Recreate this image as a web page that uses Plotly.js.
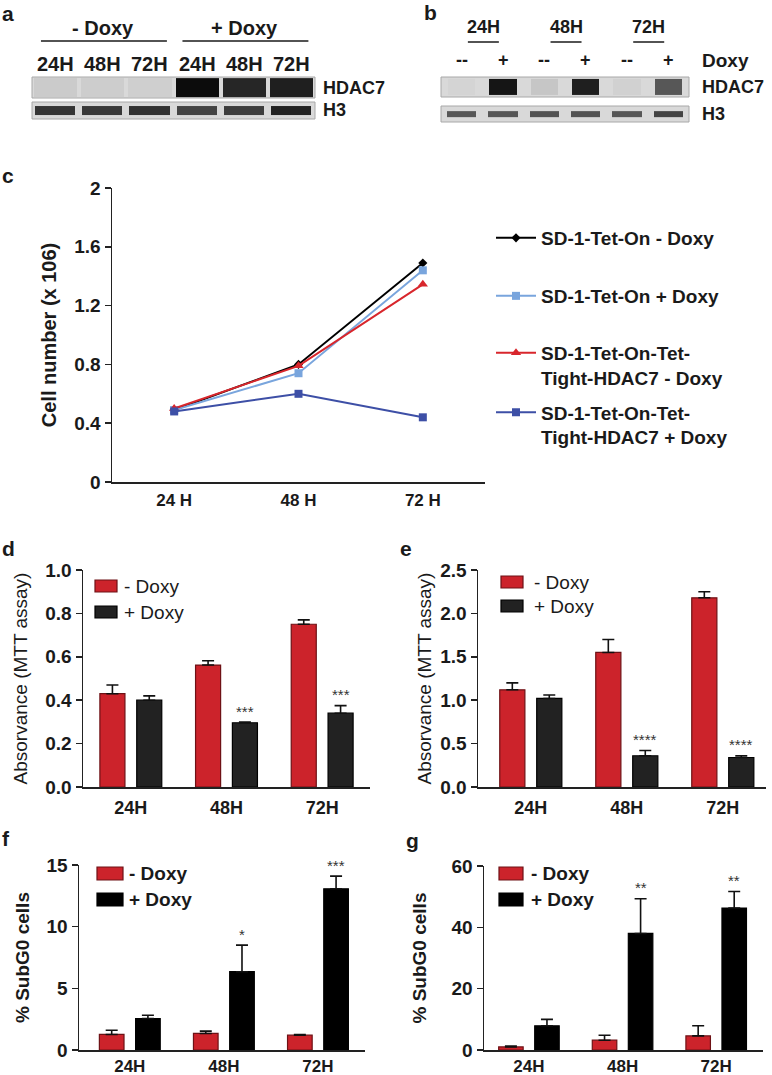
<!DOCTYPE html>
<html><head><meta charset="utf-8">
<script src="https://cdn.plot.ly/plotly-3.0.1.min.js"></script>
<style>html,body{margin:0;padding:0;background:#fff}</style>
</head><body><div id="chart" style="width:772px;height:1075px"></div>
<script>
// ---------------- Data ----------------
const blotALanes = ['24H','48H','72H','24H','48H','72H'];
const blotAGroups = ['- Doxy','+ Doxy'];
const blotAHdac7 = [0.06,0.05,0.04,1.0,0.86,0.9];
const blotAH3 = [0.78,0.76,0.8,0.7,0.74,0.88];
const blotBTimes = ['24H','48H','72H'];
const blotBDoxy = ['--','+','--','+','--','+'];
const blotBHdac7 = [0.02,0.95,0.08,0.9,0.03,0.6];
const blotBH3 = [0.6,0.6,0.62,0.62,0.6,0.7];

const growthTimes = ['24 H','48 H','72 H'];
const growthNames = ['SD-1-Tet-On - Doxy','SD-1-Tet-On + Doxy',
  'SD-1-Tet-On-Tet-<br>Tight-HDAC7 - Doxy','SD-1-Tet-On-Tet-<br>Tight-HDAC7 + Doxy'];
const growthTetOnMinus = [0.49,0.80,1.49];
const growthTetOnPlus  = [0.49,0.74,1.44];
const growthHdac7Minus = [0.50,0.79,1.345];
const growthHdac7Plus  = [0.48,0.60,0.44];

const times = ['24H','48H','72H'];
const groupNames = ['- Doxy','+ Doxy'];
const mttDMinus = [0.43,0.562,0.75],  errDMinus = [0.04,0.02,0.02];
const mttDPlus  = [0.40,0.296,0.34],  errDPlus  = [0.02,0.003,0.035];
const sigD = ['','***','***'];
const mttEMinus = [1.12,1.55,2.18],   errEMinus = [0.08,0.15,0.07];
const mttEPlus  = [1.02,0.36,0.34],   errEPlus  = [0.04,0.06,0.02];
const sigE = ['','****','****'];
const subFMinus = [1.26,1.34,1.2],    errFMinus = [0.34,0.19,0.05];
const subFPlus  = [2.55,6.35,13.07],  errFPlus  = [0.27,2.15,1.03];
const sigF = ['','*','***'];
const subGMinus = [1.0,3.2,4.6],      errGMinus = [0.3,1.6,3.3];
const subGPlus  = [7.9,38.0,46.3],    errGPlus  = [2.1,11.3,5.4];
const sigG = ['','**','**'];

// ---------------- Helpers ----------------
const W = 772, H = 1075;
const px = x => x / W;
const py = y => 1 - y / H;
const domX = (a, b) => [px(a), px(b)];
const domY = (top, bottom) => [py(bottom), py(top)];
const FONT = 'Liberation Sans, Arial, Helvetica, sans-serif';
const INK = '#1a1a1a';
const RED = '#cc232b', RED_EDGE = '#6e1216';
const BARGAP = 0.23, BARGROUPGAP = 0.32;
const OFF = (1 - BARGAP) / 4;

const traces = [];
const annotations = [];
const shapes = [];

// ---------------- Blots ----------------
const blotScale = [[0,'#d8d8d8'],[0.5,'#6a6a6a'],[1,'#0c0c0c']];
function blot(z, ax, xgap) {
  traces.push({type:'heatmap', z:[z], x:z.map((_, i) => i), y:[0],
    xaxis:'x'+ax, yaxis:'y'+ax, colorscale:blotScale, zmin:0, zmax:1,
    showscale:false, xgap:xgap, hoverinfo:'skip'});
  shapes.push({type:'rect', xref:'x'+ax+' domain', yref:'y'+ax+' domain',
    x0:0, x1:1, y0:0, y1:1, layer:'below',
    fillcolor:'#d9d9d9', line:{color:'#a8a8a8', width:1}});
}
blot(blotAHdac7, 6, 4);
blot(blotAH3, 7, 7);
blot(blotBHdac7, 8, 14);
blot(blotBH3, 9, 12);

const lbl = (text, x, y, size, opts={}) => Object.assign({
  text, x, y, xref:'paper', yref:'paper', showarrow:false,
  font:{family:FONT, size, color:INK, weight:'bold'}, xanchor:'center', yanchor:'middle'}, opts);

// panel a labels
blotALanes.forEach((t, i) => annotations.push(lbl(t, i, py(64), 20, {xref:'x6'})));
blotAGroups.forEach((g, k) => {
  annotations.push(lbl(g, 3*k + 1, py(28), 20, {xref:'x6'}));
  shapes.push({type:'line', xref:'x6', yref:'paper', x0:3*k - 0.31, x1:3*k + 2.36,
    y0:py(41), y1:py(41), line:{color:INK, width:1.5}});
});
annotations.push(lbl('HDAC7', px(321), py(88), 18, {xanchor:'left'}));
annotations.push(lbl('H3', px(321), py(110), 18, {xanchor:'left'}));

// panel b labels
blotBTimes.forEach((t, i) => {
  annotations.push(lbl(t, 2*i + 0.53, py(27), 18, {xref:'x8'}));
  shapes.push({type:'line', xref:'x8', yref:'paper', x0:2*i + 0.15, x1:2*i + 0.9,
    y0:py(42), y1:py(42), line:{color:INK, width:1.5}});
});
blotBDoxy.forEach((d, i) => annotations.push(lbl(d, i, py(60), 18, {xref:'x8'})));
annotations.push(lbl('Doxy', px(700), py(60), 19, {xanchor:'left'}));
annotations.push(lbl('HDAC7', px(700), py(87), 18, {xanchor:'left'}));
annotations.push(lbl('H3', px(700), py(114), 18, {xanchor:'left'}));

// panel letters
[['a',0,13],['b',422,12],['c',0,175],['d',0,548],['e',398,548],['f',0,838],['g',404,840]]
  .forEach(([t, x, y]) => annotations.push(lbl(t, px(x), py(y), 21, {xanchor:'left', yanchor:'middle'})));

// ---------------- Panel c: growth lines ----------------
const lineSpecs = [
  {y:growthTetOnMinus, color:'#000000', symbol:'diamond', size:7},
  {y:growthTetOnPlus,  color:'#79a5dd', symbol:'square', size:8},
  {y:growthHdac7Minus, color:'#d8262c', symbol:'triangle-up', size:9},
  {y:growthHdac7Plus,  color:'#3d4fa6', symbol:'square', size:8},
];
const legendY = [238, 296, 365.5, 425];
lineSpecs.forEach((s, i) => {
  traces.push({type:'scatter', mode:'lines+markers', x:growthTimes, y:s.y, name:growthNames[i],
    xaxis:'x', yaxis:'y', line:{color:s.color, width:2},
    marker:{color:s.color, symbol:s.symbol, size:s.size},
    legend: i === 0 ? 'legend' : 'legend' + (i + 1), showlegend:true, hoverinfo:'skip'});
});

// ---------------- Bar panels ----------------
const barPanels = [
  {ax:2, minus:mttDMinus, eMinus:errDMinus, plus:mttDPlus, ePlus:errDPlus, sig:sigD, plusColor:'#222222',
   key:{x:95, w:22, y1:580, y2:606, h:12, tx:122}},
  {ax:3, minus:mttEMinus, eMinus:errEMinus, plus:mttEPlus, ePlus:errEPlus, sig:sigE, plusColor:'#222222',
   key:{x:501, w:22, y1:576, y2:600, h:12, tx:532}},
  {ax:4, minus:subFMinus, eMinus:errFMinus, plus:subFPlus, ePlus:errFPlus, sig:sigF, plusColor:'#000000',
   key:{x:97, w:26, y1:867, y2:893, h:13, tx:127}},
  {ax:5, minus:subGMinus, eMinus:errGMinus, plus:subGPlus, ePlus:errGPlus, sig:sigG, plusColor:'#000000',
   key:{x:499, w:24, y1:867, y2:893, h:13, tx:529}},
];
barPanels.forEach(p => {
  const zeros = times.map(() => 0);
  const errStyle = (arr) => ({type:'data', array:arr, arrayminus:zeros, symmetric:false,
    color:'#111', thickness:1.6, width:6});
  traces.push({type:'bar', x:times, y:p.minus, name:groupNames[0], xaxis:'x'+p.ax, yaxis:'y'+p.ax,
    marker:{color:RED, line:{color:RED_EDGE, width:1.2}}, error_y:errStyle(p.eMinus),
    showlegend:false, hoverinfo:'skip'});
  traces.push({type:'bar', x:times, y:p.plus, name:groupNames[1], xaxis:'x'+p.ax, yaxis:'y'+p.ax,
    marker:{color:p.plusColor, line:{color:'#000', width:1.2}}, error_y:errStyle(p.ePlus),
    showlegend:false, hoverinfo:'skip'});
  p.sig.forEach((s, i) => {
    if (!s) return;
    annotations.push({text:s, x:i + OFF, y:p.plus[i] + p.ePlus[i], xref:'x'+p.ax, yref:'y'+p.ax,
      showarrow:false, yanchor:'middle', yshift:11, font:{family:FONT, size:15, color:'#333'}});
  });
  // legend keys
  const k = p.key;
  [[k.y1, RED, RED_EDGE, groupNames[0]], [k.y2, p.plusColor, '#000', groupNames[1]]].forEach(([yy, c, lc, t]) => {
    shapes.push({type:'rect', xref:'paper', yref:'paper', x0:px(k.x), x1:px(k.x + k.w),
      y0:py(yy + k.h), y1:py(yy), fillcolor:c, line:{color:lc, width:1.2}});
    annotations.push(lbl(t, px(k.tx), py(yy + k.h / 2), 19, {xanchor:'left',
      font:{family:FONT, size:19, color:INK, weight:(p.ax <= 3 ? 'normal' : 'bold')}}));
  });
});

// ---------------- Layout ----------------
const axBase = {showline:true, linecolor:'#222', linewidth:1.5, showgrid:false, zeroline:false,
  fixedrange:true, tickcolor:'#222', tickwidth:1.5};
const hidden = {visible:false, fixedrange:true, showgrid:false, zeroline:false};
const tickFont = (s) => ({family:FONT, size:s, color:INK, weight:'bold'});
const xAx = (n, dom, range, fs, st) => Object.assign({}, axBase, {anchor:'y'+n, domain:dom, type:'category',
  range, ticks:'', tickfont:tickFont(fs), ticklabelstandoff:st});
const yAx = (n, dom, extra) => Object.assign({}, axBase, {anchor:'x'+n, domain:dom, ticks:'outside', ticklen:6}, extra);

const layout = {
  width:W, height:H, margin:{l:0, r:0, t:0, b:0}, autosize:false,
  paper_bgcolor:'#fff', plot_bgcolor:'rgba(0,0,0,0)',
  font:{family:FONT, color:INK},
  barmode:'group', bargap:BARGAP, bargroupgap:BARGROUPGAP,
  showlegend:true,
  annotations, shapes,
  // panel c
  xaxis: xAx('', domX(112,485), [-0.5,2.5], 17, 2),
  yaxis: yAx('', domY(188,482), {range:[0,2], dtick:0.4, tickfont:tickFont(19),
    title:{text:'Cell number (x 106)', font:{family:FONT, size:20, weight:'bold', color:INK}, standoff:12}}),
  // panel d
  xaxis2: xAx(2, domX(83,370), [-0.5,2.5], 18, 4),
  yaxis2: yAx(2, domY(570,787), {range:[0,1], dtick:0.2, tickformat:'.1f', tickfont:tickFont(19),
    title:{text:'Absorvance (MTT assay)', font:{family:FONT, size:19, color:INK}, standoff:12}}),
  // panel e
  xaxis3: xAx(3, domX(478,766), [-0.55,2.45], 18, 4),
  yaxis3: yAx(3, domY(570,787), {range:[0,2.5], dtick:0.5, tickformat:'.1f', tickfont:tickFont(19),
    title:{text:'Absorvance (MTT assay)', font:{family:FONT, size:19, color:INK}, standoff:3}}),
  // panel f
  xaxis4: xAx(4, domX(79,365), [-0.54,2.5], 17, 0),
  yaxis4: yAx(4, domY(865,1050), {range:[0,15], dtick:5, tickfont:tickFont(19),
    title:{text:'% SubG0 cells', font:{family:FONT, size:19, weight:'bold', color:INK}, standoff:12}}),
  // panel g
  xaxis5: xAx(5, domX(484,763), [-0.48,2.5], 17, 0),
  yaxis5: yAx(5, domY(866,1050), {range:[0,60], dtick:20, tickfont:tickFont(19),
    title:{text:'% SubG0 cells', font:{family:FONT, size:19, weight:'bold', color:INK}, standoff:20}}),
  // blots
  xaxis6: Object.assign({}, hidden, {anchor:'y6', domain:domX(32,315), range:[-0.5,5.5]}),
  yaxis6: Object.assign({}, hidden, {anchor:'x6', domain:domY(77,98), range:[-0.56,0.56]}),
  xaxis7: Object.assign({}, hidden, {anchor:'y7', domain:domX(32,315), range:[-0.5,5.5]}),
  yaxis7: Object.assign({}, hidden, {anchor:'x7', domain:domY(102,119), range:[-0.95,0.95]}),
  xaxis8: Object.assign({}, hidden, {anchor:'y8', domain:domX(441,689), range:[-0.5,5.5]}),
  yaxis8: Object.assign({}, hidden, {anchor:'x8', domain:domY(77,97), range:[-0.62,0.62]}),
  xaxis9: Object.assign({}, hidden, {anchor:'y9', domain:domX(441,689), range:[-0.5,5.5]}),
  yaxis9: Object.assign({}, hidden, {anchor:'x9', domain:domY(106,122), range:[-1.4,1.4]}),
};
// panel c legends (one per entry to match the custom spacing)
legendY.forEach((yc, i) => {
  layout[i === 0 ? 'legend' : 'legend' + (i + 1)] = {
    x:px(491), xanchor:'left', y:py(yc), yanchor:'middle', bgcolor:'rgba(0,0,0,0)', borderwidth:0,
    font:{family:FONT, size:19, color:INK, weight:'bold'}, itemwidth:40, valign:'top',
    itemclick:false, itemdoubleclick:false};
});

Plotly.newPlot('chart', traces, layout, {staticPlot:true, displayModeBar:false});
</script></body></html>
